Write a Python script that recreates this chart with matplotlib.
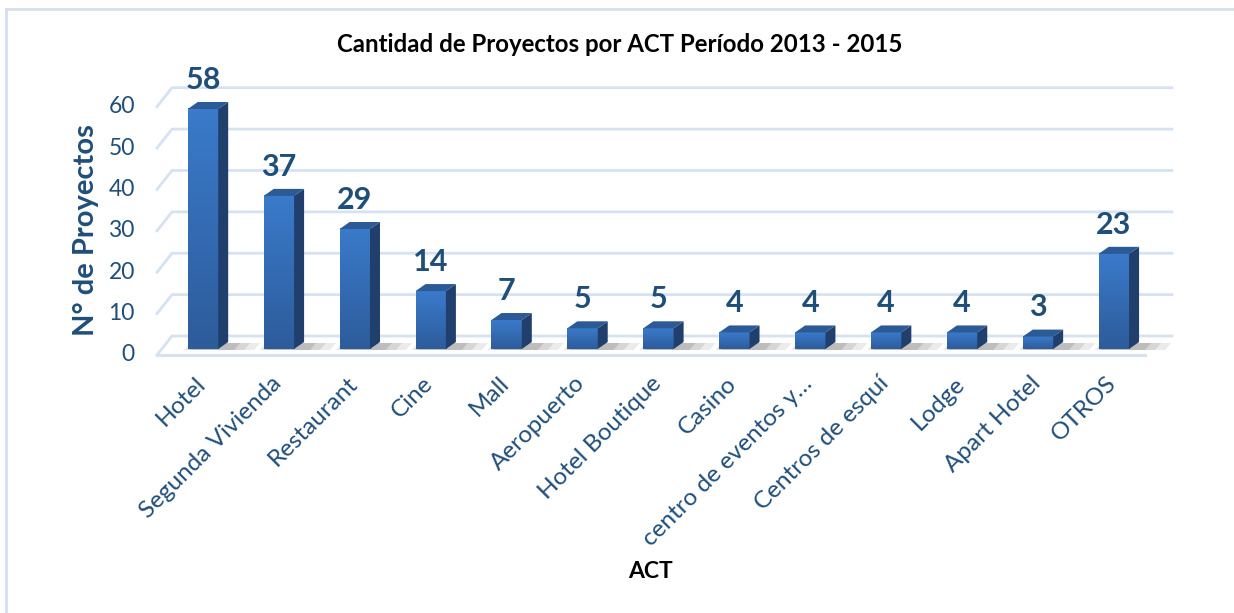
import matplotlib
matplotlib.use("Agg")
import matplotlib.pyplot as plt
from matplotlib.patches import Polygon
from matplotlib.lines import Line2D
from matplotlib.transforms import IdentityTransform
import numpy as np

plt.rcParams['font.family'] = ['Lato', 'DejaVu Sans']

categories = ["Hotel", "Segunda Vivienda", "Restaurant", "Cine", "Mall",
              "Aeropuerto", "Hotel Boutique", "Casino", "centro de eventos y…",
              "Centros de esquí", "Lodge", "Apart Hotel", "OTROS"]
proyectos = [58, 37, 29, 14, 7, 5, 5, 4, 4, 4, 4, 3, 23]
yticks = [0, 10, 20, 30, 40, 50, 60]

title = "Cantidad de Proyectos por ACT Período 2013 - 2015"
xlabel = "ACT"
ylabel = "N° de Proyectos"

TXT = "#1F4E79"
GRID = "#D6E2F2"
W, H = 1234, 613

fig = plt.figure(figsize=(W / 100, H / 100), dpi=100)
ax = fig.add_axes([157 / W, (H - 349) / H, 988 / W, 248.3 / H])
XLIM = (-0.606, 12.41)
ax.set_xlim(*XLIM)
ax.set_ylim(0, 60)
ax.axis("off")
ident = IdentityTransform()


def px(x, y):
    return ax.transData.transform((x, y))


def add(artist):
    # pixel-space artist drawn inside the axes' z-order
    ax.add_artist(artist)
    artist.set_clip_on(False)
    return artist


# back wall gridlines + left wall diagonals (pixel offsets mimic the 3D view)
x0 = XLIM[0]
right_px = px(XLIM[1], 0)[0] + 27
for t in yticks:
    fx, fy = px(x0, t)
    fy -= 6
    add(Line2D([fx, fx + 15, right_px], [fy, fy + 19, fy + 19],
               transform=ident, color=GRID, lw=2, zorder=1))
# front floor edge
fx, fy = px(x0, 0)
ex, _ = px(XLIM[1], 0)
add(Line2D([fx, ex], [fy - 6, fy - 6], transform=ident, color=GRID, lw=2.2, zorder=1))

width = 0.4
dx, dy = 10, 7
grad = np.linspace(0, 1, 64).reshape(-1, 1)
front_cmap = matplotlib.colors.LinearSegmentedColormap.from_list(
    "front", ["#2D5C9B", "#3A7ACA"])

for i, v in enumerate(proyectos):
    lx, by = px(i - width / 2, 0)
    rx, ty = px(i + width / 2, v)
    # floor shadow
    for k, a in enumerate([0.10, 0.12, 0.16]):
        ext = 36 - k * 10
        add(Polygon([[lx - 4 + k * 3, by - 1], [rx + ext, by - 1],
                     [rx + ext + 6, by + 6], [lx + 2 + k * 3, by + 6]],
                    closed=True, transform=ident, facecolor="#404040",
                    edgecolor="none", alpha=a, zorder=2))
    # front face with gradient
    ax.imshow(grad, extent=(i - width / 2, i + width / 2, 0, v), origin="lower",
              cmap=front_cmap, aspect="auto", zorder=3)
    # side face
    add(Polygon([[rx, by], [rx + dx, by + dy], [rx + dx, ty + dy], [rx, ty]],
                closed=True, transform=ident, facecolor="#213F6C",
                edgecolor="none", zorder=3))
    # top face
    add(Polygon([[lx, ty], [rx, ty], [rx + dx, ty + dy], [lx + dx, ty + dy]],
                closed=True, transform=ident, facecolor="#2B5A96",
                edgecolor="none", zorder=3))
    ax.annotate(str(v), xy=(i, v), xytext=(0, 21), textcoords="offset points",
                ha="center", va="center", fontsize=22, fontweight="bold",
                color=TXT, zorder=5)

ax.set_xlim(*XLIM)
ax.set_ylim(0, 60)

# category labels
for i, c in enumerate(categories):
    ax.annotate(c, xy=(i, 0), xytext=(-6, -17), textcoords="offset points",
                ha="right", va="top", rotation=45, rotation_mode="anchor",
                fontsize=17.5, color=TXT, annotation_clip=False)

# y tick labels on the front plane
for t in yticks:
    ax.annotate(str(t), xy=(x0, t), xytext=(-16, -4.3), textcoords="offset points",
                ha="right", va="center", fontsize=16.5, color=TXT,
                annotation_clip=False)

fig.text(86 / W, 1 - 230 / H, ylabel, rotation=90, ha="center", va="center",
         fontsize=21, fontweight="bold", color=TXT)
fig.text(650 / W, 1 - 572 / H, xlabel, ha="center", va="center",
         fontsize=16.5, fontweight="bold", color="black")
fig.text(620 / W, 1 - 45 / H, title, ha="center", va="center",
         fontsize=17.3, fontweight="bold", color="black")

# chart border (only top and left are visible in the crop)
fig.add_artist(Line2D([6, W], [H - 9, H - 9], transform=ident, color="#D5E0EC", lw=2))
fig.add_artist(Line2D([6, 6], [0, H - 9], transform=ident, color="#D5E0EC", lw=2))

fig.savefig("out.png", dpi=100)
